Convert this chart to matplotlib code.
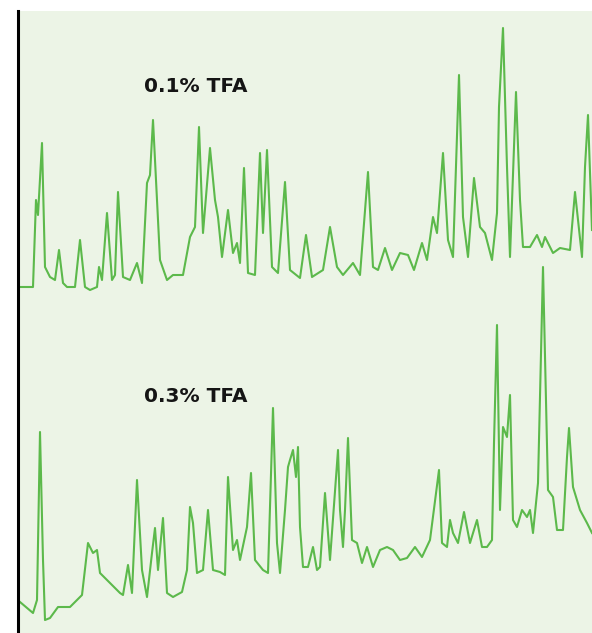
import matplotlib
matplotlib.use("Agg")
import matplotlib.pyplot as plt

# Chromatogram traces (retention position, detector signal), two TFA concentrations
time_01 = [20, 33, 36, 38, 42, 45, 50, 55, 59, 63, 67, 75, 80, 85, 90, 97, 99, 102, 107, 112,
           115, 118, 123, 130, 137, 142, 147, 150, 153, 160, 167, 173, 183, 190, 195, 199, 203,
           210, 215, 218, 222, 228, 233, 237, 240, 244, 248, 255, 260, 263, 267, 272, 278, 285,
           290, 300, 306, 312, 323, 330, 337, 343, 353, 360, 368, 373, 378, 385, 392, 400, 408,
           414, 422, 427, 433, 437, 443, 448, 453, 459, 463, 468, 474, 480, 485, 492, 497, 499,
           503, 507, 510, 516, 520, 523, 530, 537, 542, 545, 553, 560, 570, 575, 582, 585, 588,
           592]
signal_01 = [346, 346, 433, 418, 490, 366, 356, 353, 383, 350, 346, 346, 393, 346, 343, 346,
             366, 353, 420, 353, 358, 441, 356, 353, 370, 350, 450, 458, 513, 373, 353, 358,
             358, 396, 406, 506, 400, 485, 433, 416, 376, 423, 380, 390, 370, 465, 360, 358,
             480, 400, 483, 366, 360, 451, 363, 355, 398, 356, 363, 406, 366, 358, 370, 358,
             461, 366, 363, 385, 363, 380, 378, 363, 390, 373, 416, 400, 480, 393, 376, 558,
             416, 376, 455, 406, 400, 373, 420, 526, 605, 466, 376, 541, 433, 386, 386, 398,
             386, 396, 380, 385, 383, 441, 376, 466, 518, 403]

time_03 = [20, 33, 37, 40, 43, 45, 50, 58, 70, 82, 88, 93, 97, 100, 110, 120, 123, 128, 132,
           137, 142, 147, 152, 155, 158, 163, 167, 173, 182, 187, 190, 193, 197, 203, 208, 213,
           220, 225, 228, 233, 237, 240, 247, 251, 255, 263, 268, 273, 277, 280, 285, 288, 290,
           293, 296, 298, 300, 303, 308, 313, 317, 320, 325, 330, 338, 340, 343, 345, 348, 352,
           357, 362, 367, 373, 380, 387, 393, 400, 407, 415, 422, 430, 439, 442, 447, 450, 453,
           458, 464, 470, 477, 482, 487, 492, 494, 497, 500, 503, 507, 510, 513, 517, 522, 527,
           530, 533, 538, 543, 548, 553, 557, 563, 567, 569, 573, 580, 587, 592]
signal_03 = [31, 20, 33, 201, 73, 13, 15, 26, 26, 38, 90, 80, 83, 60, 50, 40, 38, 68, 40, 153,
             63, 36, 80, 105, 63, 115, 40, 36, 41, 63, 126, 110, 60, 63, 123, 63, 61, 58, 156,
             83, 93, 73, 106, 160, 73, 63, 60, 225, 90, 60, 123, 166, 173, 183, 156, 186, 106,
             66, 66, 86, 63, 66, 140, 73, 183, 123, 86, 123, 195, 93, 90, 70, 86, 66, 83, 86,
             83, 73, 75, 86, 76, 93, 163, 90, 86, 113, 100, 90, 121, 90, 113, 86, 86, 93, 190,
             308, 123, 206, 196, 238, 113, 106, 123, 116, 123, 100, 150, 366, 143, 136, 103,
             103, 176, 205, 146, 123, 110, 100]

labels = ["0.1% TFA", "0.3% TFA"]
label_pos = [(196, 547), (196, 237)]

trace_color = "#5cb94b"
panel_color = "#ecf4e6"

fig = plt.figure(figsize=(5.92, 6.33), dpi=100)
ax = fig.add_axes([18 / 592, 0, 1 - 18 / 592, 622 / 633])
ax.set_facecolor(panel_color)

ax.plot(time_01, signal_01, color=trace_color, lw=1.5, solid_joinstyle="round")
ax.plot(time_03, signal_03, color=trace_color, lw=1.5, solid_joinstyle="round")

for text, (tx, ty) in zip(labels, label_pos):
    ax.text(tx, ty, text, ha="center", va="center", fontsize=14.5,
            fontweight="bold", family=["DejaVu Sans"], color="#151515")

ax.set_xlim(18, 592)
ax.set_ylim(0, 622)
for side in ("top", "right", "bottom"):
    ax.spines[side].set_visible(False)
ax.spines["left"].set_linewidth(2.2)
ax.spines["left"].set_color("black")
ax.set_xticks([])
ax.set_yticks([])

fig.savefig("out.png", dpi=100, facecolor="white")
